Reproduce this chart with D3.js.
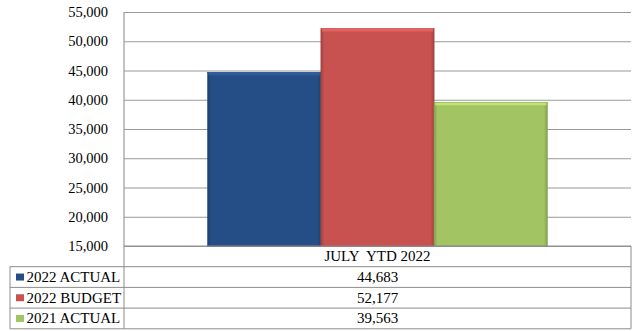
<!DOCTYPE html>
<html>
<head>
<meta charset="utf-8">
<script src="https://cdn.jsdelivr.net/npm/d3@7"></script>
<style>
  html, body { margin: 0; padding: 0; background: #fff; }
  svg { display: block; }
</style>
</head>
<body>
<svg id="chart" width="632" height="331"></svg>
<script>
const categories = ["JULY  YTD 2022"];
const seriesNames = ["2022 ACTUAL", "2022 BUDGET", "2021 ACTUAL"];
const seriesValues = [44683, 52177, 39563];
const seriesColors = ["#254E86", "#C8524F", "#A3C462"];
const tickValues = [15000, 20000, 25000, 30000, 35000, 40000, 45000, 50000, 55000];

const FONT = '"Liberation Serif", "Times New Roman", serif';
const svg = d3.select("#chart");
const plot = { left: 124, right: 631, top: 12, bottom: 246 };
const tableLeft = 10;
const rowH = 20.7;
const groupShare = 0.67;

const y = d3.scaleLinear().domain([15000, 55000]).range([plot.bottom, plot.top]);
const x0 = d3.scaleBand().domain(categories).range([plot.left, plot.right]).padding(0);
const groupW = x0.bandwidth() * groupShare;
const groupOff = (x0.bandwidth() - groupW) / 2;
const x1 = d3.scaleBand().domain(seriesNames).range([groupOff, groupOff + groupW]).padding(0);
const fmt = d3.format(",");

// gradients for the bevelled bar look
const defs = svg.append("defs");
seriesColors.forEach((c, i) => {
  const g = defs.append("linearGradient").attr("id", "side" + i).attr("x1", 0).attr("x2", 1).attr("y1", 0).attr("y2", 0);
  const dark = d3.color(c).darker(0.6);
  g.append("stop").attr("offset", "0%").attr("stop-color", dark);
  g.append("stop").attr("offset", "3%").attr("stop-color", c);
  g.append("stop").attr("offset", "97%").attr("stop-color", c);
  g.append("stop").attr("offset", "100%").attr("stop-color", dark);
});

// gridlines and value axis
const yAxis = d3.axisLeft(y).tickValues(tickValues).tickSize(-(plot.right - plot.left)).tickFormat(fmt).tickPadding(16);
const ga = svg.append("g").attr("transform", `translate(${plot.left},0)`).call(yAxis);
ga.select(".domain").remove();
ga.selectAll(".tick line").attr("stroke", "#9a9a9a").attr("stroke-width", 1.2);
ga.selectAll(".tick text").style("font-family", FONT).style("font-size", "14.5px").attr("fill", "#000");

// left edge of plot
svg.append("line").attr("x1", plot.left).attr("x2", plot.left).attr("y1", plot.top).attr("y2", plot.bottom)
  .attr("stroke", "#9a9a9a").attr("stroke-width", 1.2);

// bars
const bars = svg.append("g");
categories.forEach(cat => {
  seriesNames.forEach((s, i) => {
    const bx = x0(cat) + x1(s);
    const bw = x1.bandwidth();
    const top = y(seriesValues[i]);
    const base = y(15000);
    const c = d3.color(seriesColors[i]);
    bars.append("rect").attr("x", bx).attr("y", top).attr("width", bw).attr("height", base - top)
      .attr("fill", `url(#side${i})`).attr("stroke", c.darker(0.5)).attr("stroke-width", 0.6);
    bars.append("rect").attr("x", bx + 1).attr("y", top + 0.5).attr("width", bw - 2).attr("height", 2.5)
      .attr("fill", c.brighter(0.45));
  });
});

// data table
const tbl = svg.append("g");
const lineColor = "#8c8c8c";
const rows = seriesNames.length;
const tableTop = plot.bottom;
const tableBottom = tableTop + rowH * (rows + 1);
const fs = "15px";
const label = sel => sel.style("font-family", FONT).style("font-size", fs).style("white-space", "pre").attr("fill", "#000");
tbl.append("line").attr("x1", plot.left).attr("x2", plot.right).attr("y1", tableTop).attr("y2", tableTop).attr("stroke", lineColor);
tbl.append("text").attr("x", x0(categories[0]) + x0.bandwidth() / 2).attr("y", tableTop + rowH / 2 + 5)
  .attr("text-anchor", "middle").call(label).text(categories[0]);
for (let r = 0; r <= rows; r++) {
  const yy = tableTop + rowH * (r + 1);
  tbl.append("line").attr("x1", tableLeft).attr("x2", plot.right).attr("y1", yy).attr("y2", yy).attr("stroke", lineColor);
}
tbl.append("line").attr("x1", tableLeft).attr("x2", tableLeft).attr("y1", tableTop + rowH).attr("y2", tableBottom).attr("stroke", lineColor);
tbl.append("line").attr("x1", plot.left).attr("x2", plot.left).attr("y1", tableTop).attr("y2", tableBottom).attr("stroke", lineColor);
tbl.append("line").attr("x1", plot.right).attr("x2", plot.right).attr("y1", tableTop).attr("y2", tableBottom).attr("stroke", lineColor);

seriesNames.forEach((s, i) => {
  const cy = tableTop + rowH * (i + 1) + rowH / 2;
  tbl.append("rect").attr("x", 16).attr("y", cy - 3.5).attr("width", 8).attr("height", 7).attr("fill", seriesColors[i]);
  tbl.append("text").attr("x", 26.5).attr("y", cy + 5).call(label).text(s);
  tbl.append("text").attr("x", x0(categories[0]) + x0.bandwidth() / 2).attr("y", cy + 5)
    .attr("text-anchor", "middle").call(label).text(fmt(seriesValues[i]));
});
</script>
</body>
</html>
